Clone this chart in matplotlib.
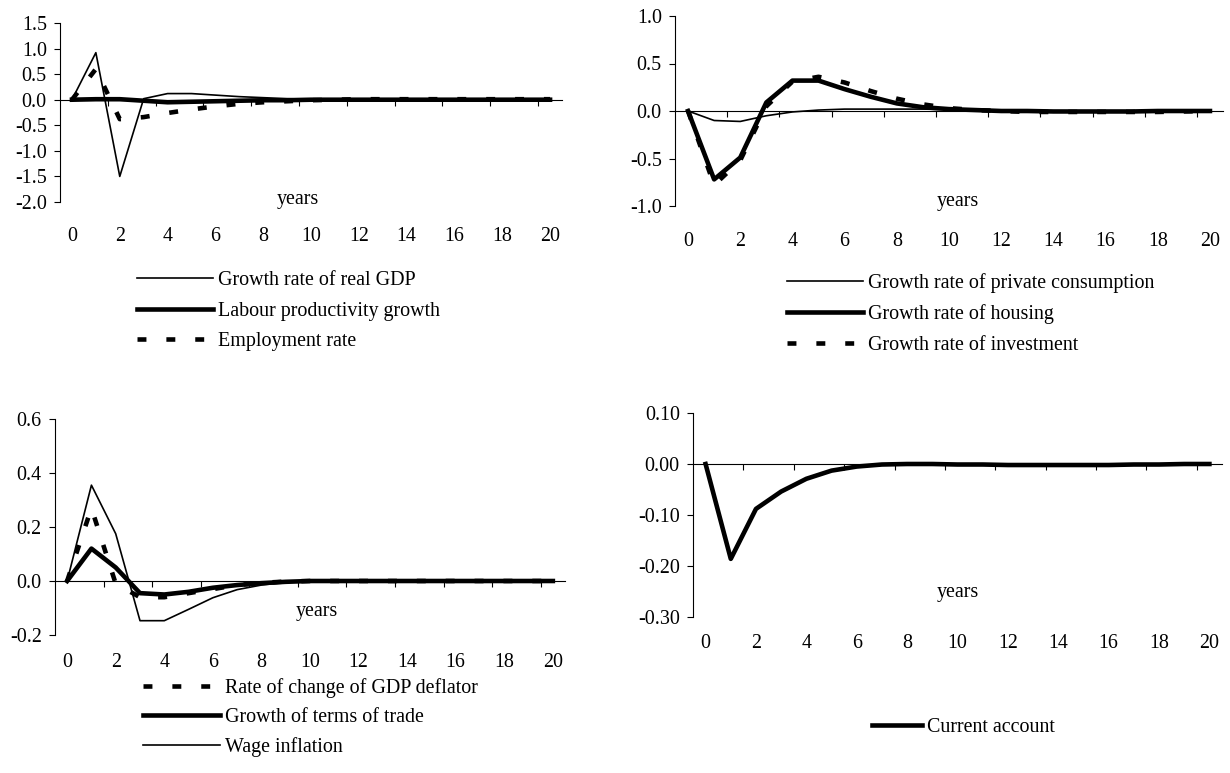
import matplotlib
matplotlib.use('Agg')
import matplotlib.pyplot as plt
from matplotlib.ticker import FormatStrFormatter

# data
years = list(range(21))

gdp_growth = [0, 0.92, -1.50, 0.02, 0.12, 0.12, 0.09, 0.06, 0.04, 0.02, 0.01,
              0.01, 0.0, 0.0, 0.0, 0.0, 0.0, 0.0, 0.0, 0.0, 0.0]
labour_prod = [0, 0.01, 0.01, -0.02, -0.05, -0.04, -0.03, -0.02, -0.01, -0.01, 0.0,
               0.0, 0.0, 0.0, 0.0, 0.0, 0.0, 0.0, 0.0, 0.0, 0.0]
employment = [0, 0.60, -0.38, -0.34, -0.26, -0.19, -0.13, -0.08, -0.05, -0.03, -0.01,
              0.0, 0.01, 0.01, 0.01, 0.01, 0.01, 0.01, 0.01, 0.01, 0.01]

consumption = [0, -0.10, -0.11, -0.05, -0.01, 0.01, 0.02, 0.02, 0.02, 0.02, 0.015,
               0.01, 0.01, 0.005, 0.0, 0.0, 0.0, 0.0, 0.0, 0.0, 0.0]
housing = [0, -0.72, -0.49, 0.09, 0.32, 0.32, 0.23, 0.15, 0.08, 0.04, 0.02,
           0.01, 0.0, 0.0, -0.005, -0.005, -0.005, -0.005, 0.0, 0.0, 0.0]
investment = [0, -0.78, -0.52, 0.05, 0.31, 0.36, 0.30, 0.21, 0.13, 0.07, 0.03,
              0.01, 0.0, -0.01, -0.01, -0.01, -0.01, -0.01, -0.01, -0.005, 0.0]

deflator = [0, 0.27, -0.01, -0.06, -0.06, -0.045, -0.03, -0.015, -0.007, -0.002, 0.0,
            0.0, 0.0, 0.0, 0.0, 0.0, 0.0, 0.0, 0.0, 0.0, 0.0]
terms_trade = [0, 0.12, 0.05, -0.045, -0.05, -0.04, -0.025, -0.015, -0.008, -0.003, 0.0,
               0.0, 0.0, 0.0, 0.0, 0.0, 0.0, 0.0, 0.0, 0.0, 0.0]
wage_infl = [0, 0.355, 0.175, -0.147, -0.147, -0.105, -0.062, -0.032, -0.015, -0.005, 0.0,
             0.0, 0.0, 0.0, 0.0, 0.0, 0.0, 0.0, 0.0, 0.0, 0.0]

current_acc = [0, -0.186, -0.088, -0.054, -0.029, -0.013, -0.005, -0.001, 0.0, 0.0, -0.001,
               -0.001, -0.002, -0.002, -0.002, -0.002, -0.002, -0.001, -0.001, 0.0, 0.0]

year_labels = [0, 2, 4, 6, 8, 10, 12, 14, 16, 18, 20]
tick_marks = [1.5, 3.5, 5.5, 7.5, 9.5, 11.5, 13.5, 15.5, 17.5, 19.5]

W, H = 1230, 773
plt.rcParams['font.family'] = 'Liberation Serif'
plt.rcParams['font.size'] = 14.4
plt.rcParams['axes.unicode_minus'] = False

fig = plt.figure(figsize=(W / 100, H / 100), dpi=100)

THIN = dict(color='black', lw=1.2, zorder=3)
THICK = dict(color='black', lw=3.3, zorder=3)
DASH = dict(color='black', lw=3.3, ls=(0, (1.95, 4.35)), zorder=3)


def add_panel(x0, x1, y_top, y_bot):
    # axes box given in pixels of the final image
    return fig.add_axes([x0 / W, 1 - y_bot / H, (x1 - x0) / W, (y_bot - y_top) / H])


def style_panel(ax, ylim, yticks, fmt, years_xy, label_pad):
    ax.set_xlim(-0.5, 20.5)
    ax.set_ylim(*ylim)
    ax.set_yticks(yticks)
    ax.yaxis.set_major_formatter(FormatStrFormatter(fmt))
    ax.spines['top'].set_visible(False)
    ax.spines['right'].set_visible(False)
    ax.spines['bottom'].set_position(('data', 0))
    ax.spines['bottom'].set_linewidth(0.8)
    ax.spines['left'].set_linewidth(0.8)
    ax.set_xticks(tick_marks)
    ax.tick_params(axis='x', direction='out', length=4.5, width=0.8, labelbottom=False)
    ax.tick_params(axis='y', direction='out', length=4.5, width=0.8, pad=5)
    ax.patch.set_alpha(0)

    # category labels sit below the plot area (Excel "low" position)
    sec = ax.secondary_xaxis(0)
    sec.set_xticks(year_labels)
    sec.tick_params(length=0, pad=label_pad)
    sec.spines['bottom'].set_visible(False)

    ax.text(years_xy[0], years_xy[1], 'years', transform=ax.transAxes,
            ha='center', va='center')


def add_legend(ax, x_px, row1_px, handlelength, spacing=0.58):
    fig.legend(handles=ax.get_lines(), loc='upper left',
               bbox_to_anchor=(x_px / W, 1 - (row1_px - 12) / H),
               frameon=False, borderpad=0, borderaxespad=0,
               handlelength=handlelength, handletextpad=0.25, labelspacing=spacing)


# top left
ax1 = add_panel(60, 562, 23, 202)
ax1.plot(years, gdp_growth, label='Growth rate of real GDP', **THIN)
ax1.plot(years, labour_prod, label='Labour productivity growth', **THICK)
ax1.plot(years, employment, label='Employment rate', **DASH)
style_panel(ax1, (-2.0, 1.5), [-2.0, -1.5, -1.0, -0.5, 0.0, 0.5, 1.0, 1.5], '%.1f',
            (0.474, 0.015), 18)
add_legend(ax1, 137, 283, 3.8)

# top right
ax2 = add_panel(675, 1223, 16, 206)
ax2.plot(years, consumption, label='Growth rate of private consumption', **THIN)
ax2.plot(years, housing, label='Growth rate of housing', **THICK)
ax2.plot(years, investment, label='Growth rate of investment', **DASH)
style_panel(ax2, (-1.0, 1.0), [-1.0, -0.5, 0.0, 0.5, 1.0], '%.1f',
            (0.516, 0.025), 19)
add_legend(ax2, 787, 285, 3.8)

# bottom left
ax3 = add_panel(55, 565, 419, 635)
ax3.plot(years, deflator, label='Rate of change of GDP deflator', **DASH)
ax3.plot(years, terms_trade, label='Growth of terms of trade', **THICK)
ax3.plot(years, wage_infl, label='Wage inflation', **THIN)
style_panel(ax3, (-0.2, 0.6), [-0.2, 0.0, 0.2, 0.4, 0.6], '%.1f',
            (0.514, 0.11), 13)
add_legend(ax3, 143, 690, 3.85, spacing=0.5)

# bottom right
ax4 = add_panel(693, 1222, 413, 617)
ax4.plot(years, current_acc, label='Current account', **THICK)
style_panel(ax4, (-0.30, 0.10), [-0.30, -0.20, -0.10, 0.00, 0.10], '%.2f',
            (0.5, 0.12), 12)
add_legend(ax4, 872, 730, 2.5)

fig.savefig('out.png', dpi=100)
